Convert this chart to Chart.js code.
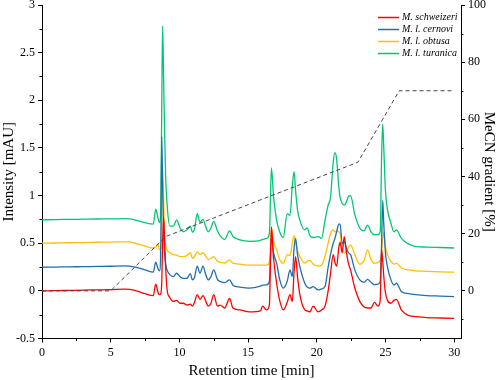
<!DOCTYPE html>
<html>
<head>
<meta charset="utf-8">
<script src="https://cdn.jsdelivr.net/npm/chart.js@4.4.1/dist/chart.umd.min.js"></script>
<style>
  html, body { margin: 0; padding: 0; background: #fff; }
</style>
</head>
<body>
<canvas id="chart" width="498" height="380"></canvas>
<script>
// retention times [min], shared by the four traces
const times = [
  0, 1, 2, 3, 4, 5, 6, 6.4, 7, 7.5,
  8.1, 8.28, 8.45, 8.55, 8.65, 8.72, 8.78, 8.85, 8.92, 9.0,
  9.1, 9.3, 9.56, 9.8, 10.05, 10.3, 10.54, 10.8, 10.95, 11.1,
  11.3, 11.5, 11.72, 11.9, 12.1, 12.3, 12.5, 12.77, 12.96, 13.3,
  13.65, 13.9, 14.4, 15.1, 15.9, 16.06, 16.35, 16.55, 16.7, 16.85,
  17.08, 17.3, 17.56, 17.85, 18.05, 18.22, 18.35, 18.46, 18.6, 18.77,
  19.13, 19.3, 19.5, 19.74, 20.1, 20.35, 20.6, 20.83, 21.0, 21.2,
  21.32, 21.45, 21.6, 21.7, 21.85, 22.0, 22.15, 22.3, 22.46, 22.77,
  23.13, 23.45, 23.7, 23.95, 24.2, 24.45, 24.62, 24.72, 24.8, 24.88,
  25.0, 25.15, 25.4, 25.62, 25.8, 26.16, 26.7, 27.2, 28, 29,
  30
];

// intensities [mAU]
const schweizeri = [
  0, 0.002, 0.005, 0.008, 0.01, 0.012, 0.018, 0.015, -0.005, -0.03,
  -0.05, 0.07, -0.02, -0.04, -0.03, 0.1, 0.5, 0.77, 0.55, 0.25,
  0.02, -0.07, -0.11, -0.1, -0.13, -0.13, -0.15, -0.14, -0.16, -0.12,
  -0.04, -0.09, -0.05, -0.1, -0.16, -0.13, -0.04, -0.16, -0.15, -0.18,
  -0.08, -0.18, -0.2, -0.22, -0.21, -0.16, -0.2, -0.15, 0.67, 0.35,
  0.08, -0.1, -0.2, -0.12, -0.04, -0.11, 0.2, 0.36, 0.15, -0.04,
  -0.2, -0.21, -0.22, -0.16, -0.22, -0.2, -0.16, 0.0, 0.18, 0.38,
  0.3, 0.26, 0.45, 0.51, 0.4, 0.57, 0.42, 0.29, 0.22, 0.03,
  -0.11, -0.17, -0.18, -0.18, -0.12, -0.16, -0.1, 0.43, 0.32, 0.15,
  -0.02, -0.1, -0.13, -0.1, -0.09, -0.2, -0.26, -0.27, -0.28, -0.285,
  -0.29
];
const cernovi = [
  0.248, 0.25, 0.252, 0.254, 0.256, 0.258, 0.262, 0.26, 0.24, 0.22,
  0.196, 0.30, 0.23, 0.21, 0.5, 1.62, 1.1, 0.65, 0.4, 0.28,
  0.22, 0.17, 0.15, 0.185, 0.15, 0.13, 0.13, 0.18, 0.115, 0.14,
  0.26, 0.185, 0.26, 0.18, 0.115, 0.15, 0.22, 0.12, 0.1, 0.087,
  0.115, 0.06, 0.04, 0.028, 0.05, 0.06, 0.063, 0.1, 0.55, 0.4,
  0.29, 0.12, 0.028, 0.1, 0.22, 0.15, 0.45, 0.55, 0.38, 0.255,
  0.08, 0.04, 0.028, 0.045, 0.01, 0.02, 0.045, 0.25, 0.38, 0.5,
  0.55, 0.62, 0.7, 0.7, 0.5, 0.52, 0.45, 0.40, 0.38, 0.22,
  0.115, 0.09, 0.12, 0.09, 0.063, 0.07, 0.1, 0.5, 0.95, 0.7,
  0.4, 0.25, 0.115, 0.06, 0.08, -0.007, -0.03, -0.04, -0.05, -0.055,
  -0.06
];
const obtusa = [
  0.5, 0.502, 0.505, 0.507, 0.51, 0.512, 0.515, 0.513, 0.49, 0.47,
  0.45, 0.46, 0.49, 0.43, 0.45, 0.8, 1.27, 1.0, 0.6, 0.48,
  0.43, 0.40, 0.38, 0.375, 0.36, 0.36, 0.37, 0.40, 0.34, 0.36,
  0.41, 0.38, 0.40, 0.37, 0.33, 0.34, 0.36, 0.31, 0.30, 0.29,
  0.325, 0.29, 0.28, 0.27, 0.27, 0.27, 0.27, 0.3, 0.66, 0.52,
  0.43, 0.33, 0.29, 0.38, 0.37, 0.5, 0.58, 0.5, 0.42, 0.36,
  0.29, 0.31, 0.32, 0.28, 0.26, 0.27, 0.36, 0.5, 0.6, 0.64,
  0.62, 0.63, 0.62, 0.6, 0.45, 0.40, 0.42, 0.46, 0.48, 0.38,
  0.28, 0.32, 0.43, 0.33, 0.29, 0.30, 0.32, 0.4, 0.55, 0.62,
  0.47, 0.38, 0.31, 0.28, 0.29, 0.24, 0.22, 0.21, 0.205, 0.2,
  0.196
];
const turanica = [
  0.745, 0.748, 0.75, 0.752, 0.754, 0.755, 0.758, 0.755, 0.735, 0.715,
  0.70, 0.857, 0.76, 0.716, 0.9, 2.0, 2.78, 2.25, 1.7, 1.2,
  0.92, 0.68, 0.68, 0.745, 0.66, 0.62, 0.64, 0.68, 0.615, 0.65,
  0.81, 0.72, 0.75, 0.68, 0.62, 0.66, 0.73, 0.63, 0.58, 0.54,
  0.63, 0.57, 0.535, 0.52, 0.53, 0.54, 0.55, 0.6, 1.29, 1.0,
  0.74, 0.62, 0.56, 0.81, 0.79, 1.1, 1.25, 1.05, 0.85, 0.74,
  0.64, 0.66, 0.58, 0.56, 0.57, 0.55, 0.74, 0.90, 0.98, 1.35,
  1.45, 1.38, 1.1, 0.98, 0.92, 0.9, 0.93, 0.99, 1.0, 0.80,
  0.66, 0.63, 0.69, 0.62, 0.59, 0.59, 0.62, 1.4, 1.75, 1.5,
  1.05, 0.85, 0.71, 0.62, 0.64, 0.55, 0.49, 0.465, 0.46, 0.455,
  0.45
];

// MeCN gradient program
const gradTimes = [0, 5, 9, 23, 26, 30];
const gradPercent = [0, 0, 19, 45, 70, 70];

const speciesNames = ["M. schweizeri", "M. l. cernovi", "M. l. obtusa", "M. l. turanica"];
const speciesColors = ["#ff0000", "#1f6fad", "#ffc000", "#00c774"];

const xTicks = [0, 5, 10, 15, 20, 25, 30];
const xMinor = [2.5, 7.5, 12.5, 17.5, 22.5, 27.5];
const yTicks = [-0.5, 0, 0.5, 1, 1.5, 2, 2.5, 3];
const yMinor = [-0.25, 0.25, 0.75, 1.25, 1.75, 2.25, 2.75];
const gradTicks = [0, 20, 40, 60, 80, 100];
const gradMinor = [-10, 10, 30, 50, 70, 90];

const serif = "'Liberation Serif', 'Times New Roman', serif";

function toPoints(xs, ys) {
  return xs.map((x, i) => ({ x: x, y: ys[i] }));
}

const traces = [schweizeri, cernovi, obtusa, turanica];

const datasets = [{
  label: "MeCN gradient",
  data: toPoints(gradTimes, gradPercent),
  yAxisID: "y2",
  borderColor: "#444",
  borderWidth: 1,
  borderDash: [4, 3],
  pointRadius: 0,
  tension: 0
}];
traces.forEach((vals, i) => {
  datasets.push({
    label: speciesNames[i],
    data: toPoints(times, vals),
    yAxisID: "y",
    borderColor: speciesColors[i],
    borderWidth: 1.3,
    pointRadius: 0,
    cubicInterpolationMode: "monotone"
  });
});

// short minor ticks between the labelled ones
const minorTicks = {
  id: "minorTicks",
  afterDraw(chart) {
    const { ctx, scales } = chart;
    ctx.save();
    ctx.strokeStyle = "#000";
    ctx.lineWidth = 1;
    ctx.beginPath();
    xMinor.forEach(v => {
      const px = Math.round(scales.x.getPixelForValue(v)) + 0.5;
      ctx.moveTo(px, scales.x.top);
      ctx.lineTo(px, scales.x.top + 2.5);
    });
    yMinor.forEach(v => {
      const py = Math.round(scales.y.getPixelForValue(v)) + 0.5;
      ctx.moveTo(scales.y.right, py);
      ctx.lineTo(scales.y.right - 2.5, py);
    });
    gradMinor.forEach(v => {
      const py = Math.round(scales.y2.getPixelForValue(v)) + 0.5;
      ctx.moveTo(scales.y2.left, py);
      ctx.lineTo(scales.y2.left + 2.5, py);
    });
    ctx.stroke();
    ctx.restore();
  }
};

// legend in the top right corner of the plot
const cornerLegend = {
  id: "cornerLegend",
  afterDraw(chart) {
    const ctx = chart.ctx;
    ctx.save();
    ctx.font = "italic 10px " + serif;
    ctx.textBaseline = "middle";
    ctx.fillStyle = "#000";
    speciesNames.forEach((name, i) => {
      const y = 17.5 + i * 12;
      ctx.strokeStyle = speciesColors[i];
      ctx.lineWidth = 1.5;
      ctx.beginPath();
      ctx.moveTo(378, y);
      ctx.lineTo(399, y);
      ctx.stroke();
      ctx.fillText(name, 402, y);
    });
    ctx.restore();
  }
};

const tickFont = { family: serif, size: 12 };
const titleFont = { family: serif, size: 15 };

new Chart(document.getElementById("chart"), {
  type: "line",
  data: { datasets: datasets },
  options: {
    responsive: false,
    animation: false,
    layout: { padding: { top: 5, left: 0, right: 0, bottom: 0 } },
    plugins: { legend: { display: false }, tooltip: { enabled: false } },
    scales: {
      x: {
        type: "linear",
        min: 0,
        max: 30.5,
        afterBuildTicks: s => { s.ticks = xTicks.map(v => ({ value: v })); },
        afterFit: s => { s.height = 41.5; s.paddingLeft = 0; s.paddingRight = 0; },
        ticks: { font: tickFont, color: "#000", padding: 3, maxRotation: 0, autoSkip: false },
        grid: { drawOnChartArea: false, drawTicks: true, tickLength: 4, tickColor: "#000" },
        border: { display: true, color: "#000", width: 1 },
        title: { display: true, text: "Retention time [min]", font: titleFont, color: "#000", padding: 0 }
      },
      y: {
        position: "left",
        min: -0.5,
        max: 3,
        afterBuildTicks: s => { s.ticks = yTicks.map(v => ({ value: v })); },
        afterFit: s => { s.width = 42; s.paddingTop = 0; s.paddingBottom = 0; },
        ticks: { font: tickFont, color: "#000", padding: 3, callback: v => String(v) },
        grid: { drawOnChartArea: false, drawTicks: true, tickLength: 4, tickColor: "#000" },
        border: { display: true, color: "#000", width: 1 },
        title: { display: true, text: "Intensity [mAU]", font: titleFont, color: "#000", padding: 0 }
      },
      y2: {
        position: "right",
        min: -100 / 6,
        max: 100,
        afterBuildTicks: s => { s.ticks = gradTicks.map(v => ({ value: v })); },
        afterFit: s => { s.width = 37; s.paddingTop = 0; s.paddingBottom = 0; },
        ticks: { font: tickFont, color: "#000", padding: 3, callback: v => String(v) },
        grid: { drawOnChartArea: false, drawTicks: true, tickLength: 4, tickColor: "#000" },
        border: { display: true, color: "#000", width: 1 },
        title: { display: true, text: "MeCN gradient [%]", font: titleFont, color: "#000", padding: 0 }
      }
    }
  },
  plugins: [minorTicks, cornerLegend]
});
</script>
</body>
</html>
